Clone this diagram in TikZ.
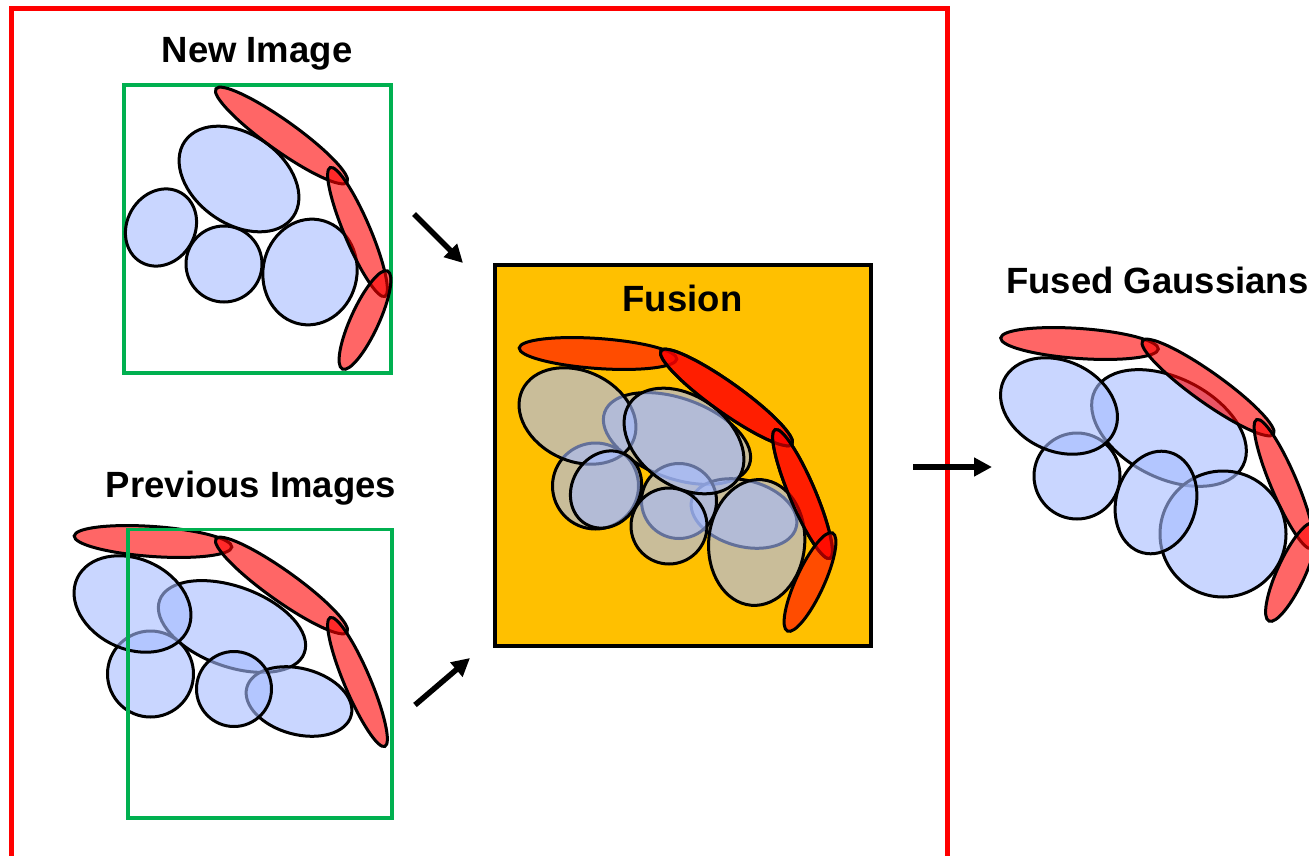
\documentclass[tikz,border=0pt]{standalone}
\usepackage{fontspec}
\setmainfont{Liberation Sans}
\usetikzlibrary{arrows.meta}

\definecolor{gaussblue}{RGB}{165,187,255}
\definecolor{framegreen}{RGB}{0,176,80}
\definecolor{fusionfill}{RGB}{255,192,0}

\tikzset{
  blob/.style={draw=black, line width=3pt, fill=gaussblue, fill opacity=.6},
  rod/.style={draw=black, line width=3pt, fill=red, fill opacity=.6},
  frame/.style={draw=framegreen, line width=3.5pt},
  paneltitle/.style={font=\bfseries\fontsize{36.5}{40}\selectfont, inner sep=0pt},
  flow/.style={line width=5.5pt, -{Triangle[length=18pt,width=18pt]}}
}

% gaussians of the new image (without the big lower blob)
\newcommand{\newgauss}{
  \draw[blob] (239,179) circle[x radius=66, y radius=45, rotate=-35];
  \draw[blob] (161,227.5) circle[x radius=40, y radius=34, rotate=60];
  \draw[blob] (224,264) circle[radius=38];
  \draw[rod] (281.5,135.5) circle[x radius=80.5, y radius=15, rotate=-35.5];
  \draw[rod] (357.5,232) circle[x radius=70, y radius=13, rotate=-67];
  \draw[rod] (365,320) circle[x radius=54, y radius=14, rotate=65.3];
}

% gaussians of the previous images
\newcommand{\oldgauss}{
  \draw[blob] (232,626.5) circle[x radius=77, y radius=40, rotate=-20];
  \draw[blob] (299,701.5) circle[x radius=54, y radius=33, rotate=-15];
  \draw[blob] (150.5,674) circle[radius=43];
  \draw[blob] (234,689) circle[radius=37.5];
  \draw[blob] (132.5,604) circle[x radius=61, y radius=45, rotate=-25];
  \draw[rod] (153,541.5) circle[x radius=79, y radius=15, rotate=-4];
  \draw[rod] (281.5,585.5) circle[x radius=80.5, y radius=15, rotate=-35.5];
  \draw[rod] (357.5,682) circle[x radius=70, y radius=13, rotate=-67];
}

\begin{document}
\begin{tikzpicture}[x=1pt, y=-1pt]
\useasboundingbox (0,0) rectangle (1309,856);
\clip (0,0) rectangle (1309,856);

% outer red frame
\draw[red, line width=5pt] (11,9) rectangle (947,890);

% new image
\node[paneltitle, anchor=base] (newtitle) at (257,63) {New Image};
\draw[frame] (124,85) rectangle (391,373);
\draw[blob] (310,272) circle[x radius=47, y radius=53, rotate=-10];
\newgauss

% previous images
\node[paneltitle, anchor=base] (prevtitle) at (251,497) {Previous Images};
\oldgauss
\draw[frame] (128,529.5) rectangle (392,818);

% fusion step
\node[draw=black, line width=4pt, fill=fusionfill, minimum width=376pt, minimum height=381pt, inner sep=0pt]
  (fusion) at (682.8,455.3) {};
\node[paneltitle, anchor=base] (fusiontitle) at (682.5,311) {Fusion};
\begin{scope}[shift={(445,-188)}]
  \oldgauss
\end{scope}
\begin{scope}[shift={(445,262)}]
  \draw[blob] (311.7,280.5) circle[x radius=48, y radius=63, rotate=-5];
  \newgauss
\end{scope}

% fused result
\node[paneltitle, anchor=base west] (fusedtitle) at (1006,293) {Fused Gaussians};
\draw[blob] (1169,428) circle[x radius=83, y radius=50, rotate=-27];
\draw[blob] (1223,534) circle[radius=63];
\draw[blob] (1077,476) circle[radius=43];
\draw[blob] (1156,502.5) circle[x radius=40, y radius=52, rotate=-15];
\draw[blob] (1059,406) circle[x radius=61, y radius=45, rotate=-25];
\draw[rod] (1079.5,343.5) circle[x radius=79, y radius=15, rotate=-4];
\draw[rod] (1208,387.5) circle[x radius=80.5, y radius=15, rotate=-35.5];
\draw[rod] (1284,484) circle[x radius=70, y radius=13, rotate=-67];
\draw[rod] (1291.5,572) circle[x radius=54, y radius=14, rotate=65.3];

% arrows
\coordinate (newout) at (414,214);
\coordinate (newin) at (463,263);
\coordinate (prevout) at (415,705);
\coordinate (previn) at (470,658);
\coordinate (fusedout) at (913,467);
\coordinate (fusedin) at (992,467);
\draw[flow] (newout) -- (newin);
\draw[flow] (prevout) -- (previn);
\draw[flow] (fusedout) -- (fusedin);
\end{tikzpicture}
\end{document}
